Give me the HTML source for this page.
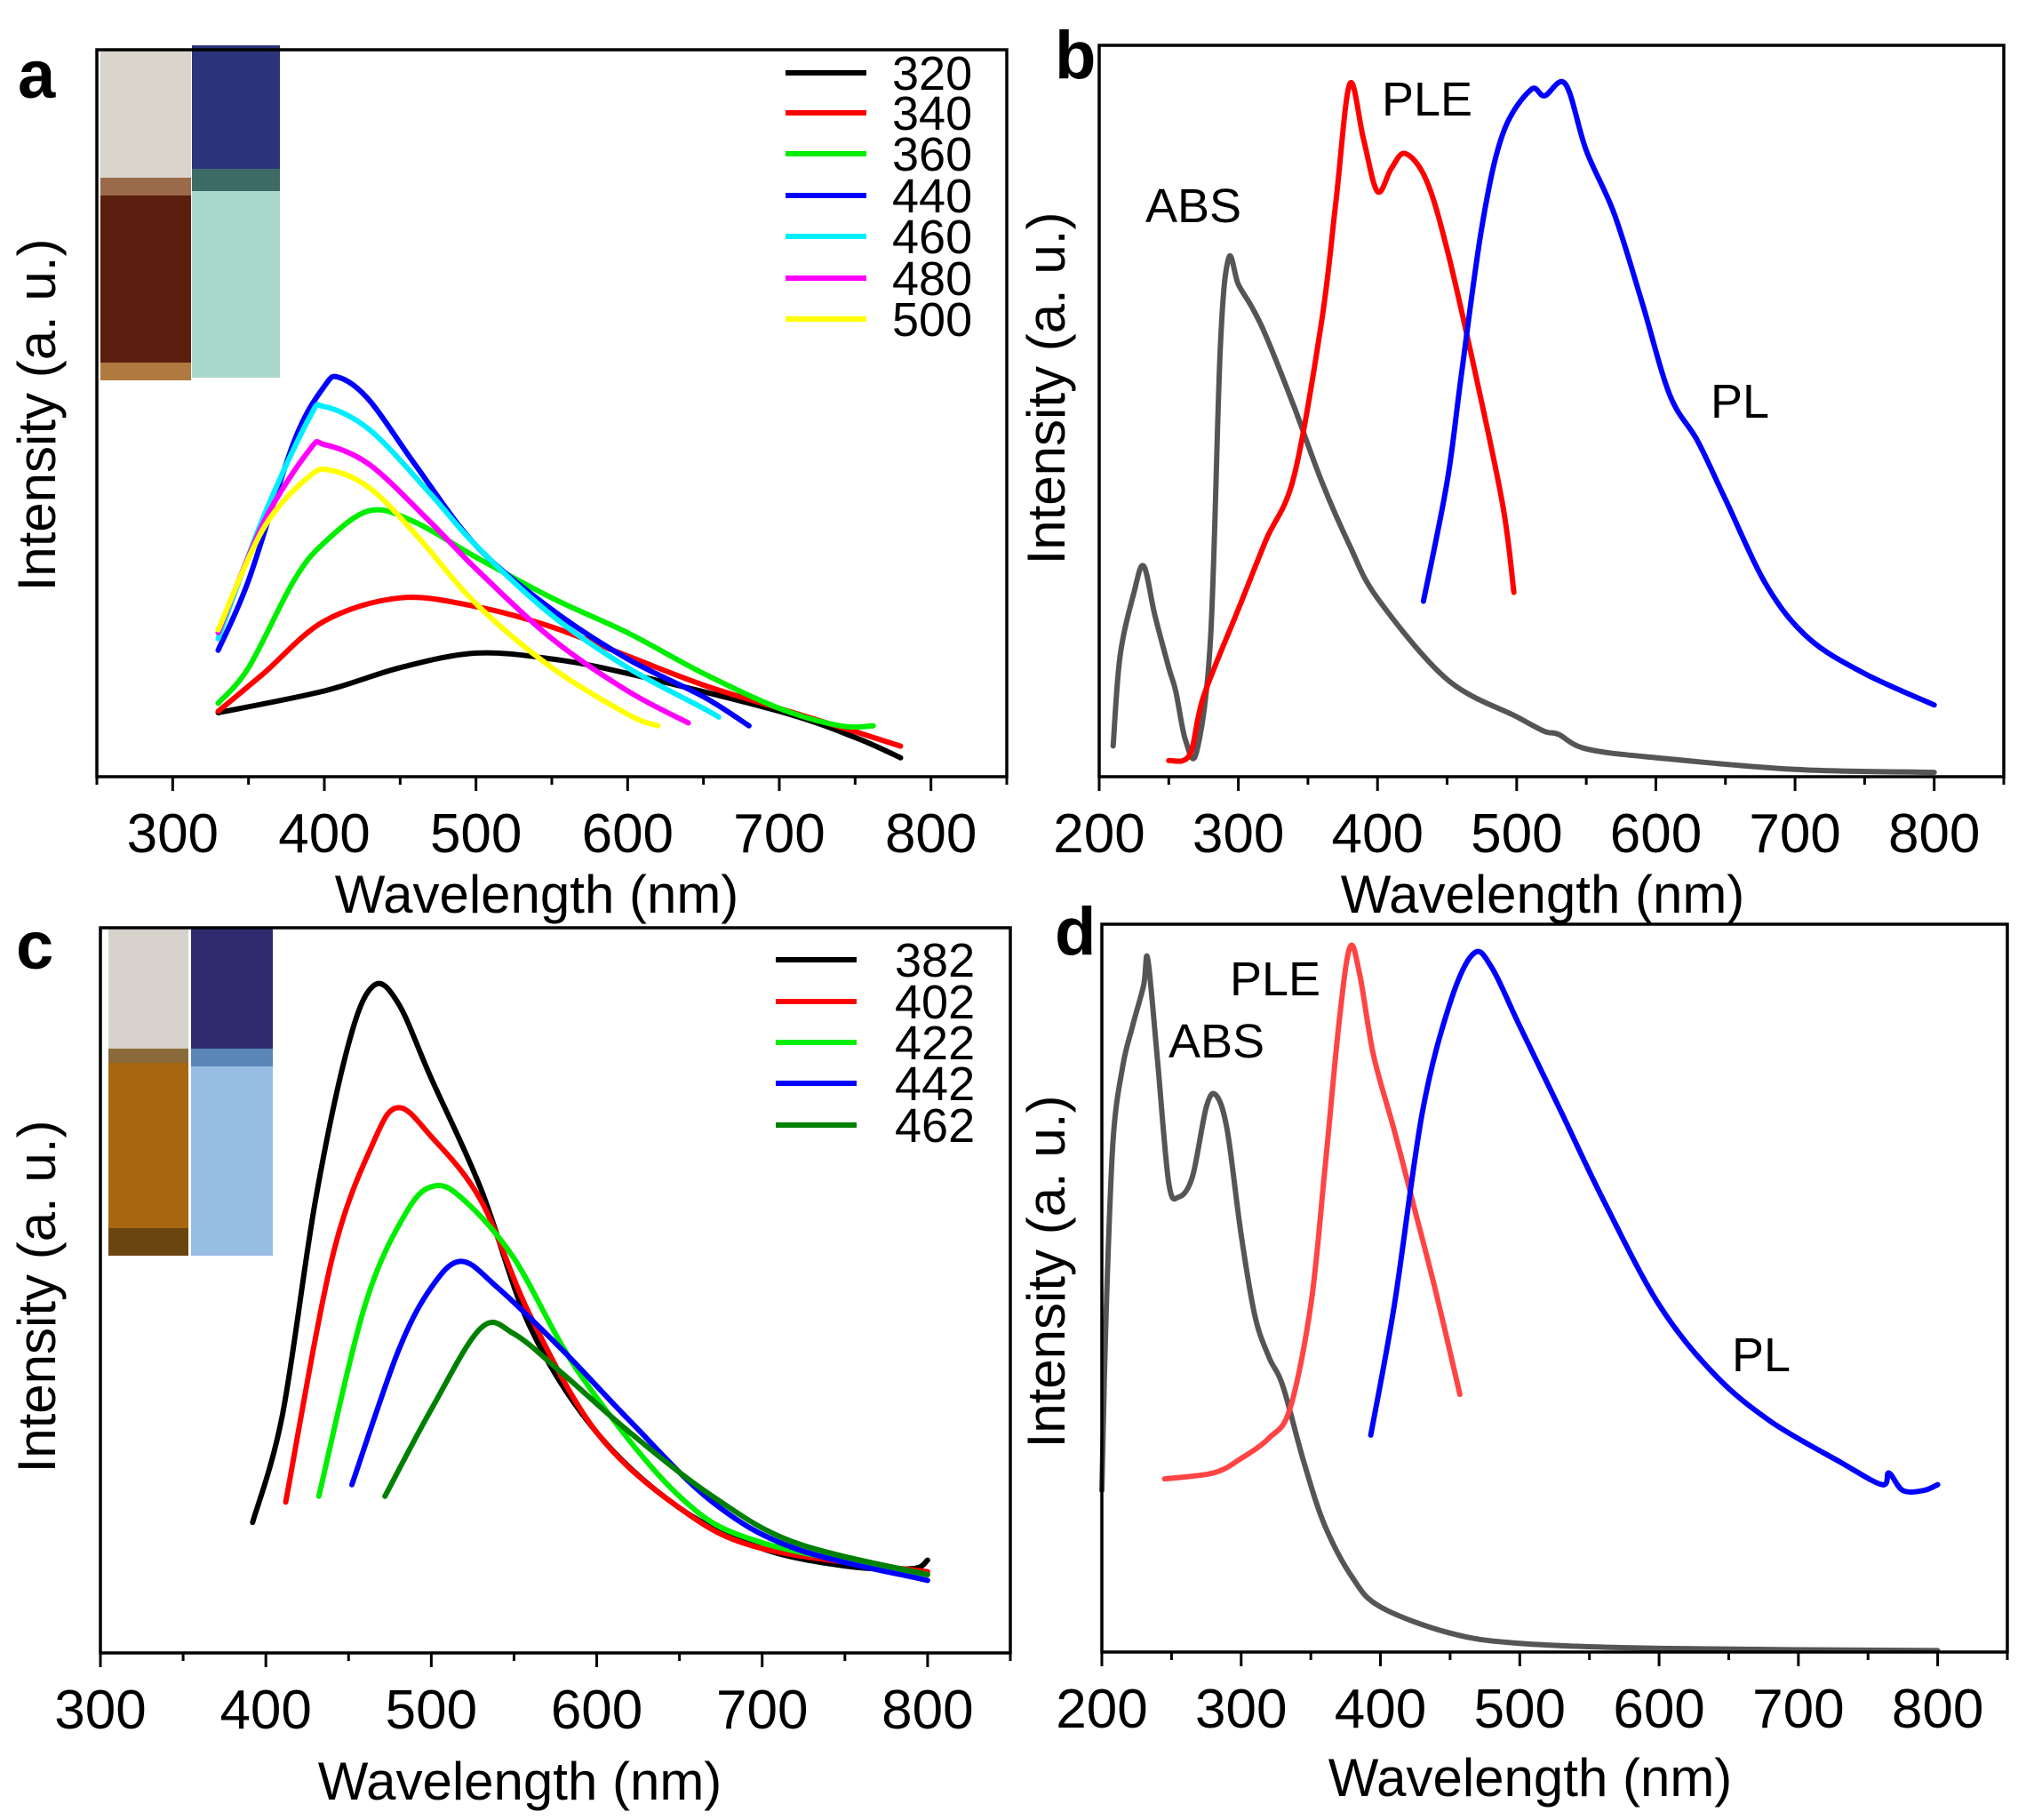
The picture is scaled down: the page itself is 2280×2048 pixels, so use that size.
<!DOCTYPE html>
<html><head><meta charset="utf-8">
<style>
html,body{margin:0;padding:0;background:#fff;}
svg{display:block;font-family:"Liberation Sans",Arial,sans-serif;}
</style></head>
<body>
<svg id="fig" width="2280" height="2048" viewBox="0 0 2280 2048" xmlns="http://www.w3.org/2000/svg">
<rect width="2280" height="2048" fill="#fff"/>
<g>
<rect x="113" y="56" width="102" height="372" fill="#5a1d0e"/>
<rect x="113" y="56" width="102" height="150" fill="#d9d4cc"/>
<rect x="113" y="200" width="102" height="20" fill="#9a6a4a"/>
<rect x="113" y="408" width="102" height="20" fill="#b0793f"/>
<rect x="216" y="51" width="99" height="374" fill="#a9d8cb"/>
<rect x="216" y="51" width="99" height="150" fill="#2b3478"/>
<rect x="216" y="190" width="99" height="25" fill="#3e6b66"/>
</g>
<g>
<rect x="122" y="1044" width="90" height="369" fill="#a8660e"/>
<rect x="122" y="1044" width="90" height="145" fill="#d7d2cc"/>
<rect x="122" y="1180" width="90" height="16" fill="#8a6a3a"/>
<rect x="122" y="1382" width="90" height="31" fill="#6b4510"/>
<rect x="215" y="1044" width="92" height="369" fill="#98bde3"/>
<rect x="215" y="1044" width="92" height="145" fill="#2e2c6e"/>
<rect x="215" y="1180" width="92" height="20" fill="#5a86b8"/>
</g>
<g id="plots"></g>
</svg>
<script>
const a320x=[330,400,450,500,550,600,700,750,780];
const a320y=[.088,.118,.150,.170,.162,.142,.090,.054,.026];
const a340x=[330,360,400,450,500,550,600,650,700,750,780];
const a340y=[.090,.142,.214,.246,.234,.206,.166,.126,.094,.062,.042];
const a360x=[330,350,380,400,430,460,500,550,600,650,700,740,762];
const a360y=[.101,.150,.270,.322,.366,.350,.302,.246,.198,.142,.094,.070,.070];
const a440x=[330,350,380,400,410,430,460,500,550,600,650,680];
const a440y=[.174,.270,.461,.537,.549,.517,.429,.318,.230,.162,.110,.070];
const a460x=[330,360,390,400,430,470,500,550,600,650,660];
const a460y=[.190,.358,.493,.509,.477,.389,.318,.222,.150,.094,.082];
const a480x=[330,360,390,400,430,470,500,550,600,640];
const a480y=[.198,.350,.449,.457,.429,.350,.286,.190,.118,.074];
const a500x=[330,360,390,405,430,460,500,550,600,620];
const a500y=[.202,.342,.413,.421,.397,.334,.238,.150,.086,.070];
const aLegend=["320","340","360","440","460","480","500"];
const bAbsX=[210,215,225,232,240,250,255,262,270,280,287,293,300,310,320,340,360,380,400,450,500,520,530,550,600,700,800];
const bAbsY=[.042,.165,.252,.288,.221,.149,.117,.050,.034,.189,.586,.709,.673,.641,.602,.506,.403,.316,.244,.133,.082,.062,.058,.038,.026,.010,.006];
const bPleX=[250,265,275,300,320,340,360,370,380,390,400,410,420,435,450,470,490,498];
const bPleY=[.022,.030,.110,.229,.324,.411,.625,.784,.947,.871,.800,.832,.852,.816,.721,.554,.371,.252];
const bPlX=[433,450,460,475,490,510,520,535,550,570,590,610,630,650,680,710,750,800];
const bPlY=[.240,.403,.546,.752,.879,.939,.931,.947,.856,.770,.649,.522,.459,.379,.260,.189,.141,.098];
const c382x=[392,410,430,450,465,480,500,530,560,600,650,700,750,790,800];
const c382y=[.180,.328,.624,.840,.920,.896,.792,.640,.448,.304,.200,.144,.120,.116,.128];
const c402x=[412,440,465,480,500,530,560,600,650,700,800];
const c402y=[.208,.544,.704,.752,.712,.624,.464,.304,.200,.144,.112];
const c422x=[432,460,485,502,520,550,590,650,700,800];
const c422y=[.216,.480,.608,.644,.624,.544,.384,.216,.152,.108];
const c442x=[452,480,500,518,540,580,620,670,720,800];
const c442y=[.232,.416,.504,.540,.504,.416,.320,.208,.144,.100];
const c462x=[472,500,530,550,580,620,670,720,800];
const c462y=[.216,.336,.448,.440,.384,.304,.216,.152,.108];
const cLegend=["382","402","422","442","462"];
const dAbsX=[200,203,208,215,222,230,233,240,248,255,265,275,282,290,300,310,320,330,345,360,380,400,450,500,600,800];
const dAbsY=[.222,.461,.701,.805,.860,.916,.952,.812,.645,.625,.653,.749,.765,.717,.573,.461,.405,.365,.261,.174,.102,.062,.026,.012,.005,.002];
const dPleX=[245,280,300,320,335,350,360,370,378,385,395,410,425,440,457];
const dPleY=[.238,.246,.266,.294,.334,.477,.661,.860,.968,.932,.820,.716,.605,.493,.354];
const dPlX=[393,410,430,450,467,480,500,530,560,600,640,680,730,760,765,775,790,800];
const dPlY=[.298,.477,.741,.892,.960,.940,.860,.741,.621,.477,.381,.317,.261,.230,.246,.222,.222,.230];
const xTicksA=[300,400,500,600,700,800];
const xTicksB=[200,300,400,500,600,700,800];
const xTicksC=[300,400,500,600,700,800];

const NS="http://www.w3.org/2000/svg";
const root=document.getElementById('plots');
function mk(tag,attrs,parent){const e=document.createElementNS(NS,tag);for(const k in attrs)e.setAttribute(k,attrs[k]);(parent||root).appendChild(e);return e;}
function smooth(pts){
  let d="M"+pts[0][0].toFixed(1)+","+pts[0][1].toFixed(1);
  for(let i=0;i<pts.length-1;i++){
    const p0=pts[i-1]||pts[i],p1=pts[i],p2=pts[i+1],p3=pts[i+2]||p2;
    const c1x=p1[0]+(p2[0]-p0[0])/6,c1y=p1[1]+(p2[1]-p0[1])/6;
    const c2x=p2[0]-(p3[0]-p1[0])/6,c2y=p2[1]-(p3[1]-p1[1])/6;
    d+=" C"+c1x.toFixed(1)+","+c1y.toFixed(1)+" "+c2x.toFixed(1)+","+c2y.toFixed(1)+" "+p2[0].toFixed(1)+","+p2[1].toFixed(1);
  }
  return d;
}
function panel(P){
  const g=mk('g',{});
  
  
  const sx=v=>P.L+(v-P.x0)/(P.x1-P.x0)*(P.R-P.L);
  const sy=f=>P.B-f*(P.B-P.T);
  P.series.forEach(s=>{
    const pts=s.x.map((v,i)=>[sx(v),sy(s.y[i])]);
    const p=mk('path',{d:smooth(pts),fill:'none',stroke:s.c,'stroke-width':6,'stroke-linejoin':'round','stroke-linecap':'round'},g);
    
    
  });
  const fr=mk('rect',{x:P.L,y:P.T,width:P.R-P.L,height:P.B-P.T,fill:'none',stroke:'#000','stroke-width':3.5},g);
  
  
  for(let v=Math.ceil(P.x0/50)*50;v<=P.x1;v+=50){
    const major=v%100===0;
    const t=mk('line',{x1:sx(v),x2:sx(v),y1:P.B,y2:P.B+(major?16:9),stroke:'#000','stroke-width':3},g);
    
    
  }
  P.ticks.forEach(v=>{
    const t=mk('text',{x:sx(v),y:P.B+85,'font-size':62,'text-anchor':'middle',fill:'#000'},g);
    t.textContent=v;
    
    
  });
  const xt=mk('text',{x:P.xtx,y:P.xty,'font-size':60,'text-anchor':'middle',fill:'#000','xml:space':'preserve'},g);
  xt.textContent=P.xtitle;
  
  
  const yt=mk('text',{x:0,y:0,'font-size':60,'text-anchor':'middle',fill:'#000',transform:'translate('+(P.ytx)+','+P.yty+') rotate(-90)'},g);
  yt.textContent='Intensity  (a. u.)';
  
  
  const lt=mk('text',{x:P.lx,y:P.ly,'font-size':76,'font-weight':'bold',fill:'#000'},g);
  lt.textContent=P.letter;
  
  
  (P.legend||[]).forEach((lab,i)=>{
    const y=P.legY[i];
    const l=mk('line',{x1:P.legL,x2:P.legL+91,y1:y,y2:y,stroke:P.series[i].c,'stroke-width':6},g);
    
    
    const t=mk('text',{x:P.legTx,y:y+19,'font-size':54,fill:'#000'},g);
    t.textContent=lab;
    
    
  });
  (P.labels||[]).forEach(lb=>{
    const t=mk('text',{x:lb[1],y:lb[2],'font-size':54,fill:'#000'},g);
    t.textContent=lb[0];
    
    
  });
}
panel({name:'panel-a',letter:'a',lx:20,ly:110,L:109,R:1133,T:56,B:874,x0:250,x1:850,ticks:xTicksA,
  xtitle:'Wavelength  (nm)',xtx:604,xty:1027,ytx:62,yty:467,
  series:[{x:a320x,y:a320y,c:'#000',n:'series-320'},{x:a340x,y:a340y,c:'#ff0000',n:'series-340'},{x:a360x,y:a360y,c:'#00ee00',n:'series-360'},
  {x:a440x,y:a440y,c:'#0000ff',n:'series-440'},{x:a460x,y:a460y,c:'#00eeff',n:'series-460'},{x:a480x,y:a480y,c:'#ff00ff',n:'series-480'},{x:a500x,y:a500y,c:'#ffff00',n:'series-500'}],
  legend:aLegend,legY:[82,127,173,220,266,313,359],legL:884,legTx:1004});
panel({name:'panel-b',letter:'b',lx:1187,ly:88,L:1237,R:2255,T:51,B:874,x0:200,x1:850,ticks:xTicksB,
  xtitle:'Wavelength (nm)',xtx:1736,xty:1027,ytx:1198,yty:437,
  series:[{x:bAbsX,y:bAbsY,c:'#555',n:'abs-curve'},{x:bPleX,y:bPleY,c:'#ff0000',n:'ple-curve'},{x:bPlX,y:bPlY,c:'#0000ff',n:'pl-curve'}],
  labels:[['ABS',1289,250],['PLE',1555,130],['PL',1925,470]]});
panel({name:'panel-c',letter:'c',lx:18,ly:1090,L:113,R:1137,T:1044,B:1860,x0:300,x1:850,ticks:xTicksC,
  xtitle:'Wavelength  (nm)',xtx:585,xty:2025,ytx:62,yty:1459,
  series:[{x:c382x,y:c382y,c:'#000',n:'series-382'},{x:c402x,y:c402y,c:'#ff0000',n:'series-402'},{x:c422x,y:c422y,c:'#00ee00',n:'series-422'},
  {x:c442x,y:c442y,c:'#0000ff',n:'series-442'},{x:c462x,y:c462y,c:'#008000',n:'series-462'}],
  legend:cLegend,legY:[1080,1127,1173,1219,1266],legL:873,legTx:1007});
panel({name:'panel-d',letter:'d',lx:1187,ly:1074,L:1240,R:2259,T:1040,B:1859,x0:200,x1:850,ticks:xTicksB,
  xtitle:'Wavelength  (nm)',xtx:1722,xty:2021,ytx:1198,yty:1431,
  series:[{x:dAbsX,y:dAbsY,c:'#555',n:'abs-curve'},{x:dPleX,y:dPleY,c:'#ff4444',n:'ple-curve'},{x:dPlX,y:dPlY,c:'#0000ff',n:'pl-curve'}],
  labels:[['PLE',1384,1120],['ABS',1315,1190],['PL',1949,1543]]});
</script>
</body></html>
